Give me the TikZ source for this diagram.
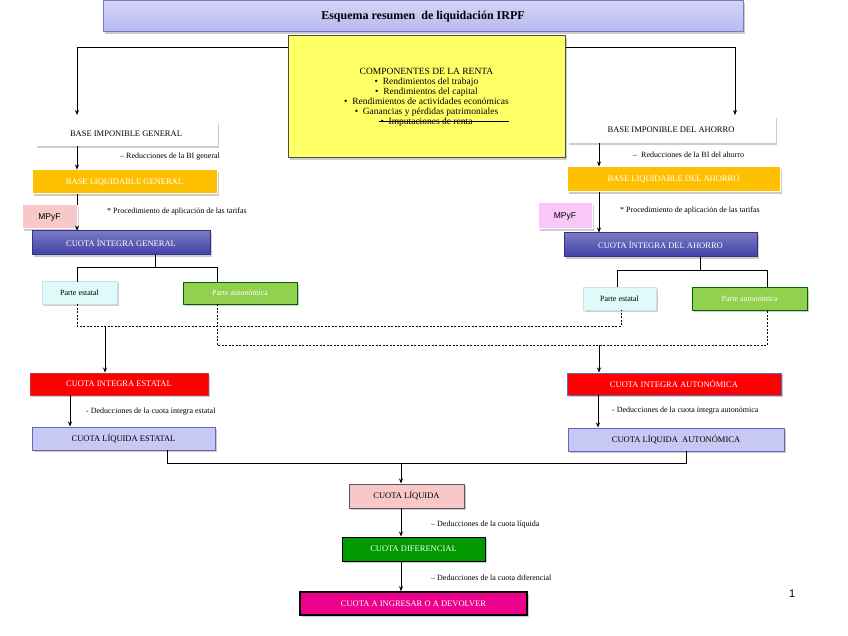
\documentclass[tikz,border=0pt]{standalone}
\usepackage{fontspec}
\setmainfont{Liberation Serif}
\newfontfamily\sanss{Liberation Sans}
\usetikzlibrary{calc,arrows.meta}
\definecolor{titlefill}{HTML}{B8B8F0}
\definecolor{ylw}{HTML}{FFFF66}
\definecolor{orng}{HTML}{FFC000}
\definecolor{dblue}{HTML}{4040A8}
\definecolor{lav}{HTML}{C8C8F4}
\definecolor{lgreen}{HTML}{92D050}
\definecolor{lcyan}{HTML}{E0FAFA}
\definecolor{lpink}{HTML}{F8C8C8}
\definecolor{mpink}{HTML}{FAC8F8}
\definecolor{dgreen}{HTML}{009900}
\begin{document}
\begin{tikzpicture}[x=1pt,y=-1pt,
  bx/.style={draw=#1,line width=1pt,inner sep=0pt,font=\fontsize{8.5}{10}\selectfont},
  arr/.style={-{Stealth[length=5pt,width=4pt]},line width=0.7pt},
  ln/.style={line width=0.7pt},
  dsh/.style={line width=0.6pt,dash pattern=on 2pt off 1.5pt},
  note/.style={anchor=west,font=\fontsize{8}{9}\selectfont,inner sep=0pt}]
\useasboundingbox (0,0) rectangle (848,636);
\newcommand{\bxx}[7]{% name,x1,y1,x2,y2,style,text
  \fill[gray!40] (#2+2,#3+2) rectangle (#4+2,#5+2);
  \node[#6,minimum width=#4-#2,minimum height=#5-#3] (#1) at ({(#2+#4)/2},{(#3+#5)/2}) {#7};}
% title
\bxx{title}{103}{1}{743}{32}{bx=dblue!70,top color=titlefill!60,bottom color=titlefill,font=\bfseries\fontsize{12}{14}\selectfont}{Esquema resumen\ \ de liquidación IRPF}
% yellow
\bxx{comp}{288}{36}{565}{158}{bx=black!70,fill=ylw,font=\fontsize{9.5}{11}\selectfont,align=center}{%
\begin{tabular}{@{}c@{}}COMPONENTES DE LA RENTA\\[-1pt]
\textbullet\ \ Rendimientos del trabajo\\[-1pt]
\textbullet\ \ Rendimientos del capital\\[-1pt]
\textbullet\ \ Rendimientos de actividades económicas\\[-1pt]
\textbullet\ \ Ganancias y pérdidas patrimoniales\\[-1pt]
\rlap{\hspace*{-2pt}\rule[2.8pt]{130pt}{0.6pt}}\textbullet\ \ Imputaciones de renta\end{tabular}}
% left column
\bxx{big}{35}{121}{217}{146}{bx=white,fill=white}{BASE IMPONIBLE GENERAL}
\bxx{blg}{32}{170}{217}{194}{bx=white,fill=orng,text=white}{BASE LIQUIDABLE GENERAL}
\bxx{mpl}{22}{205}{77}{229}{bx=white,fill=lpink,font=\sanss\fontsize{8.5}{10}\selectfont}{MPyF}
\bxx{cig}{32}{231}{210}{255}{bx=dblue!80!black,top color=dblue!70,bottom color=dblue,text=white}{CUOTA ÍNTEGRA GENERAL}
\bxx{pel}{42}{281}{117}{304}{bx=lcyan!80!gray,fill=lcyan,font=\fontsize{8}{10}\selectfont}{Parte estatal}
\bxx{pal}{183}{282}{297}{304}{bx=green!40!black,fill=lgreen,text=white,font=\fontsize{8}{10}\selectfont}{Parte autonómica}
% right column
\bxx{bia}{567}{116}{775}{143}{bx=white,fill=white}{BASE IMPONIBLE DEL AHORRO}
\bxx{bla}{567}{167}{780}{192}{bx=white,fill=orng,text=white}{BASE LIQUIDABLE DEL AHORRO}
\bxx{mpr}{538}{203}{592}{229}{bx=white,fill=mpink,font=\sanss\fontsize{8.5}{10}\selectfont}{MPyF}
\bxx{cia}{564}{233}{757}{257}{bx=dblue!80!black,top color=dblue!70,bottom color=dblue,text=white}{CUOTA ÍNTEGRA DEL AHORRO}
\bxx{per}{583}{287}{656}{310}{bx=lcyan!80!gray,fill=lcyan,font=\fontsize{8}{10}\selectfont}{Parte estatal}
\bxx{par}{692}{287}{807}{310}{bx=green!40!black,fill=lgreen,text=white,font=\fontsize{8}{10}\selectfont}{Parte autonómica}
% lower
\bxx{cie}{30}{373}{208}{395}{bx=red!60!gray,fill=red,text=white}{CUOTA INTEGRA ESTATAL}
\bxx{cle}{32}{427}{215}{450}{bx=dblue!80,fill=lav}{CUOTA LÍQUIDA ESTATAL}
\bxx{ciau}{567}{373}{781}{395}{bx=dblue!80,fill=red,text=white}{CUOTA INTEGRA AUTONÓMICA}
\bxx{clau}{568}{428}{784}{451}{bx=dblue!80,fill=lav}{CUOTA LÍQUIDA \ AUTONÓMICA}
\bxx{cl}{349}{484}{464}{508}{bx=gray!70!black,fill=lpink}{CUOTA LÍQUIDA}
\bxx{cd}{342}{537}{485}{561}{bx=black,fill=dgreen,text=white}{CUOTA DIFERENCIAL}
\bxx{ci}{300}{592}{527}{615}{bx=black,line width=1.6pt,fill=magenta,text=white}{CUOTA A INGRESAR O A DEVOLVER}
% connectors top
\draw[arr] (comp.west|-0,47) -| (77,115);
\draw[arr] (comp.east|-0,47) -| (735,115);
\draw[arr] (77,146) -- (blg.north-|77,0);
\draw[arr] (599,143) -- (bla.north-|599,0);
\draw[ln] (77,194) -- (77,205);
\draw[arr] (77,229) -- (cig.north-|77,0);
\draw[arr] (599,192) -- (cia.north-|599,0);
\draw[ln] (155,255) -- (155,267);
\draw[ln] (77,282) -- (77,267) -- (217,267) -- (217,282);
\draw[ln] (700,257) -- (700,270);
\draw[ln] (617,287) -- (617,270) -- (767,270) -- (767,287);
% dashed
\draw[dsh] (77,304) -- (77,326) -- (621,326) -- (621,310);
\draw[dsh] (217,304) -- (217,345) -- (767,345) -- (767,310);
\draw[arr] (105,326) -- (cie.north-|105,0);
\draw[arr] (599,345) -- (ciau.north-|599,0);
\draw[arr] (70,395) -- (cle.north-|70,0);
\draw[arr] (598,395) -- (clau.north-|598,0);
\draw[ln] (167,450) -- (167,463) -- (686,463) -- (686,451);
\draw[arr] (401,463) -- (cl.north-|401,0);
\draw[arr] (401,508) -- (cd.north-|401,0);
\draw[arr] (401,561) -- (ci.north-|401,0);
% notes
\node[note] (n1) at (120,157) {– Reducciones de la BI general};
\node[note] (n2) at (633,155) {– \ Reducciones de la BI del ahorro};
\node[note] (n3) at (107,212) {* Procedimiento de aplicación de las tarifas};
\node[note] (n4) at (620,211) {* Procedimiento de aplicación de las tarifas};
\node[note] (n5) at (86,412) {- Deducciones de la cuota íntegra estatal};
\node[note] (n6) at (612,411) {- Deducciones de la cuota íntegra autonómica};
\node[note] (n7) at (431,525) {– Deducciones de la cuota líquida};
\node[note] (n8) at (431,578) {– Deducciones de la cuota diferencial};
\node[anchor=west,inner sep=0pt,font=\sanss\fontsize{11}{12}\selectfont] (pg) at (789,594) {1};
\end{tikzpicture}
\end{document}
